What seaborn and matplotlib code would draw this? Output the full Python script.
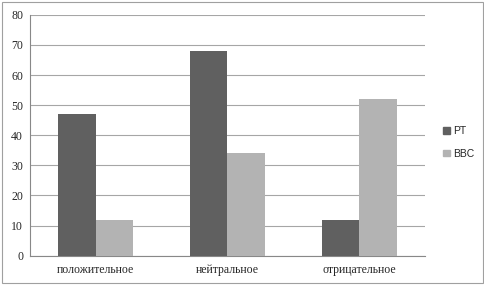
import pandas as pd
import matplotlib.pyplot as plt
import seaborn as sns
from matplotlib.patches import Rectangle
from matplotlib.ticker import FixedLocator

# Data
categories = ["положительное", "нейтральное", "отрицательное"]
series_names = ["PT", "BBC"]
pt_values = [47, 68, 12]
bbc_values = [12, 34, 52]
y_ticks = [0, 10, 20, 30, 40, 50, 60, 70, 80]

df = pd.DataFrame({
    "category": categories * 2,
    "source": [series_names[0]] * 3 + [series_names[1]] * 3,
    "value": pt_values + bbc_values,
})

sns.set_style("white")
plt.rcParams["font.family"] = ["Liberation Serif", "DejaVu Serif"]

fig = plt.figure(figsize=(4.85, 2.85), dpi=100)
ax = fig.add_axes([0.062, 0.103, 0.814, 0.845])

sns.barplot(data=df, x="category", y="value", hue="source", order=categories,
            hue_order=series_names, palette=["#606060", "#b3b3b3"],
            width=0.57, gap=0, saturation=1, linewidth=0, ax=ax,
            legend=False, zorder=3)

ax.set_xlim(-0.5, 2.5)
ax.set_ylim(0, 80)
ax.set_yticks(y_ticks)
ax.yaxis.grid(True, color="#a6a6a6", linewidth=0.8, zorder=0)
ax.set_xlabel("")
ax.set_ylabel("")

# tick marks on category boundaries
ax.xaxis.set_minor_locator(FixedLocator([-0.5, 0.5, 1.5, 2.5]))
ax.tick_params(axis="x", which="major", length=0, labelsize=8.5, pad=6)
ax.tick_params(axis="x", which="minor", length=3, color="#888888", width=0.8)
ax.tick_params(axis="y", length=3, color="#888888", width=0.8, labelsize=8.5, pad=2)

for side in ["top", "right"]:
    ax.spines[side].set_visible(False)
for side in ["left", "bottom"]:
    ax.spines[side].set_color("#888888")
    ax.spines[side].set_linewidth(0.8)

# legend
handles = [Rectangle((0, 0), 1, 1, color=c) for c in ["#606060", "#b3b3b3"]]
fig.legend(handles, series_names, loc="center left", bbox_to_anchor=(0.895, 0.5),
           frameon=False, handlelength=0.6, handleheight=0.6, handletextpad=0.3,
           labelspacing=1.2, prop={"family": "Liberation Sans", "size": 7.5})

# outer frame
fig.patches.append(Rectangle((0.005, 0.008), 0.99, 0.984, transform=fig.transFigure,
                             fill=False, edgecolor="#a0a0a0", linewidth=0.8))

fig.savefig("out.png", dpi=100)
